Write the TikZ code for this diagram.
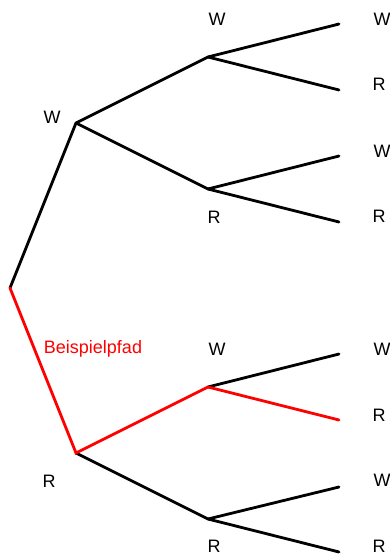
\documentclass[tikz,border=0pt]{standalone}
\usepackage{fontspec}
\setmainfont{Liberation Sans}
\begin{document}
\begin{tikzpicture} [x = 1pt, y = -1pt, line width = 2.8pt,
        ast/.style = {draw = black, line cap = round},
        pfad/.style = {draw = red, line cap = round},
        marke/.style = {font = \fontsize{18}{21}\selectfont, inner sep = 0pt}]
            \useasboundingbox (0, 0) rectangle (390, 556);

            % Verzweigungspunkte
            \coordinate (start) at (10, 288);
            \coordinate (w)     at (76, 123);
            \coordinate (r)     at (76, 453);
            \coordinate (ww)    at (208, 57);
            \coordinate (wr)    at (208, 189);
            \coordinate (rw)    at (208, 387);
            \coordinate (rr)    at (208, 519);

            % Enden
            \coordinate (www) at (339, 24);
            \coordinate (wwr) at (339, 90);
            \coordinate (wrw) at (339, 156);
            \coordinate (wrr) at (339, 222);
            \coordinate (rww) at (339, 354);
            \coordinate (rwr) at (339, 420);
            \coordinate (rrw) at (339, 487);
            \coordinate (rrr) at (339, 552);

            % Aeste
            \draw[ast] (start) -- (w);
            \draw[ast] (w) -- (ww);
            \draw[ast] (w) -- (wr);
            \draw[ast] (ww) -- (www);
            \draw[ast] (ww) -- (wwr);
            \draw[ast] (wr) -- (wrw);
            \draw[ast] (wr) -- (wrr);
            \draw[ast] (r) -- (rr);
            \draw[ast] (rw) -- (rww);
            \draw[ast] (rr) -- (rrw);
            \draw[ast] (rr) -- (rrr);

            % Beispielpfad
            \draw[pfad] (start) -- (r) -- (rw) -- (rwr);
            \node[marke, text = red] (bsp) at (93, 349) {Beispielpfad};

            % Beschriftungen
            \node[marke] (lw)   at (52, 117)  {W};
            \node[marke] (lr)   at (49, 481)  {R};
            \node[marke] (lww)  at (217, 19)  {W};
            \node[marke] (lwr)  at (214, 217) {R};
            \node[marke] (lrw)  at (217, 349) {W};
            \node[marke] (lrr)  at (214, 546) {R};
            \node[marke] (lwww) at (382, 19)  {W};
            \node[marke] (lwwr) at (379, 84)  {R};
            \node[marke] (lwrw) at (382, 151) {W};
            \node[marke] (lwrr) at (379, 216) {R};
            \node[marke] (lrww) at (382, 349) {W};
            \node[marke] (lrwr) at (379, 415) {R};
            \node[marke] (lrrw) at (382, 480) {W};
            \node[marke] (lrrr) at (379, 546) {R};
        \end{tikzpicture}
\end{document}
